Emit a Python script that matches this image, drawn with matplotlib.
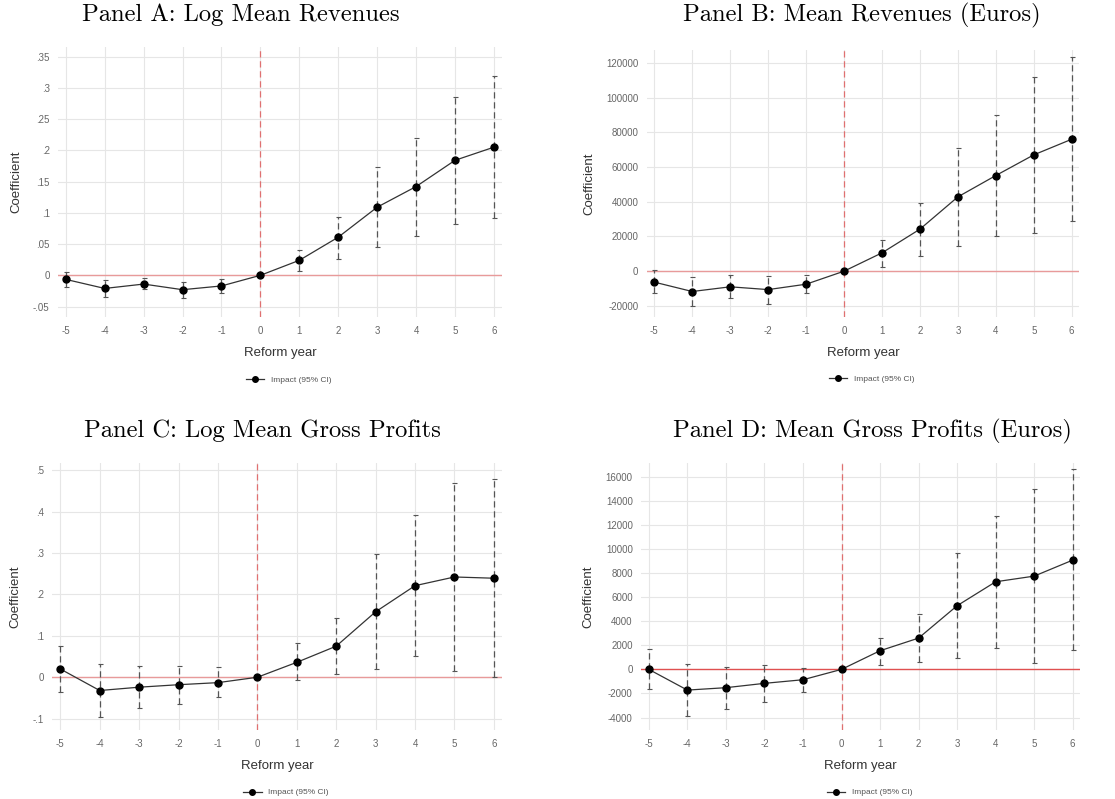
import numpy as np
import matplotlib
matplotlib.use("Agg")
import matplotlib.pyplot as plt
from matplotlib.lines import Line2D

plt.rcParams['font.family'] = ['Liberation Sans', 'DejaVu Sans']
plt.rcParams['axes.unicode_minus'] = False

years = [-5, -4, -3, -2, -1, 0, 1, 2, 3, 4, 5, 6]

# Panel A: log mean revenues
a_coef = [-0.0065, -0.021, -0.014, -0.023, -0.017, 0, 0.024, 0.061, 0.109, 0.142, 0.184, 0.205]
a_hi = [0.005, -0.008, -0.004, -0.010, -0.006, 0, 0.041, 0.094, 0.174, 0.219, 0.286, 0.319]
a_lo = [-0.018, -0.035, -0.022, -0.037, -0.028, 0, 0.0065, 0.026, 0.045, 0.063, 0.082, 0.092]

# Panel B: mean revenues (euros)
b_coef = [-6300, -11700, -9000, -10600, -7500, 0, 10560, 24200, 42800, 55100, 67000, 76000]
b_hi = [400, -3100, -2100, -2700, -2300, 0, 17700, 39300, 71000, 90000, 111700, 123200]
b_lo = [-12500, -20100, -15500, -18800, -12500, 0, 2700, 9000, 14400, 20500, 21900, 28800]

# Panel C: log mean gross profits
c_coef = [0.020, -0.032, -0.024, -0.018, -0.013, 0, 0.036, 0.075, 0.158, 0.221, 0.242, 0.239]
c_hi = [0.076, 0.032, 0.026, 0.027, 0.024, 0, 0.082, 0.142, 0.297, 0.391, 0.469, 0.478]
c_lo = [-0.036, -0.095, -0.074, -0.064, -0.048, 0, -0.007, 0.008, 0.020, 0.051, 0.014, 0.0]

# Panel D: mean gross profits (euros)
d_coef = [0, -1720, -1520, -1160, -860, 0, 1550, 2600, 5290, 7280, 7750, 9080]
d_hi = [1660, 415, 190, 360, 110, 0, 2630, 4600, 9630, 12760, 14980, 16640]
d_lo = [-1660, -3880, -3270, -2740, -1850, 0, 360, 610, 940, 1800, 500, 1600]

a_ticks = [-0.05, 0, 0.05, 0.1, 0.15, 0.2, 0.25, 0.3, 0.35]
a_labels = ['-.05', '0', '.05', '.1', '.15', '.2', '.25', '.3', '.35']
b_ticks = [-20000, 0, 20000, 40000, 60000, 80000, 100000, 120000]
b_labels = [str(t) for t in b_ticks]
c_ticks = [-0.1, 0, 0.1, 0.2, 0.3, 0.4, 0.5]
c_labels = ['-.1', '0', '.1', '.2', '.3', '.4', '.5']
d_ticks = [-4000, -2000, 0, 2000, 4000, 6000, 8000, 10000, 12000, 14000, 16000]
d_labels = [str(t) for t in d_ticks]

titles = ["Panel A: Log Mean Revenues", "Panel B: Mean Revenues (Euros)",
          "Panel C: Log Mean Gross Profits", "Panel D: Mean Gross Profits (Euros)"]

fig = plt.figure(figsize=(11.15, 7.99), dpi=100)

panels = [
    ([0.052, 0.603, 0.398, 0.338], a_coef, a_lo, a_hi, a_ticks, a_labels, (-0.067, 0.365), '#e89a9a'),
    ([0.580, 0.603, 0.388, 0.334], b_coef, b_lo, b_hi, b_ticks, b_labels, (-26500, 127200), '#e89a9a'),
    ([0.047, 0.086, 0.403, 0.335], c_coef, c_lo, c_hi, c_ticks, c_labels, (-0.128, 0.518), '#e89a9a'),
    ([0.575, 0.086, 0.394, 0.335], d_coef, d_lo, d_hi, d_ticks, d_labels, (-5060, 17180), '#e05050'),
]
title_pos = [(241, 15), (862, 15), (262, 431), (872, 431)]

for i, (rect, coef, lo, hi, ticks, labels, ylim, zc) in enumerate(panels):
    ax = fig.add_axes(rect)
    coef = np.array(coef)
    yerr = [coef - np.array(lo), np.array(hi) - coef]
    ax.axhline(0, color=zc, lw=1, zorder=1)
    ax.axvline(0, color='#e07070', lw=0.9, ls=(0, (5, 3)), zorder=1)
    eb = ax.errorbar(years, coef, yerr=yerr, fmt='none', ecolor='#555555',
                     elinewidth=0.9, capsize=1.8, capthick=0.8, zorder=2)
    eb[2][0].set_linestyle((0, (5, 3)))
    ax.plot(years, coef, color='#333333', lw=0.9, marker='o', ms=5,
            mfc='black', mec='black', zorder=3)
    ax.set_xlim(-5.2, 6.2)
    ax.set_ylim(*ylim)
    ax.set_xticks(years)
    ax.set_yticks(ticks)
    ax.set_yticklabels(labels)
    ax.grid(True, color='#e6e6e6', lw=0.8)
    ax.set_axisbelow(True)
    for s in ax.spines.values():
        s.set_visible(False)
    ax.tick_params(length=0, labelsize=7, labelcolor='#666666', pad=6)
    ax.set_xlabel("Reform year", fontsize=9.5, color='#333333', labelpad=8)
    ax.set_ylabel("Coefficient", fontsize=9.5, color='#333333', labelpad=8)
    h = Line2D([], [], color='#333333', lw=0.9, marker='o', ms=4, mfc='black', mec='black')
    ax.legend([h], ["Impact (95% CI)"], loc='upper center', bbox_to_anchor=(0.52, -0.19),
              frameon=False, fontsize=6, handlelength=2.2, labelcolor='#555555')
    tx, ty = title_pos[i]
    fig.text(tx / 1115, 1 - ty / 799, titles[i], family='cmr10', fontsize=17.7,
             ha='center', va='center')

fig.savefig("out.png", dpi=100)
